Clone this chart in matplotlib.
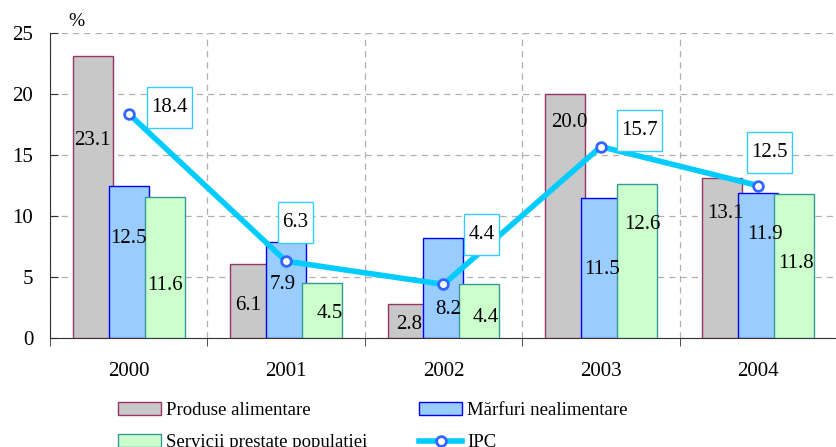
import matplotlib
matplotlib.use("Agg")
import matplotlib.pyplot as plt
import numpy as np
from matplotlib.patches import Patch, Rectangle
from matplotlib.lines import Line2D

plt.rcParams['font.family'] = ['Liberation Serif', 'DejaVu Serif']

years = ["2000", "2001", "2002", "2003", "2004"]
produse = [23.1, 6.1, 2.8, 20.0, 13.1]
marfuri = [12.5, 7.9, 8.2, 11.5, 11.9]
servicii = [11.6, 4.5, 4.4, 12.6, 11.8]
ipc = [18.4, 6.3, 4.4, 15.7, 12.5]

# label positions (x offset from category center, y in data units)
produse_lbl = [(-0.23, 16.2), (-0.24, 2.7), (-0.22, 1.15), (-0.20, 17.7), (-0.21, 10.25)]
marfuri_lbl = [(0.0, 8.2), (-0.02, 4.4), (0.03, 2.3), (0.01, 5.6), (0.04, 8.5)]
servicii_lbl = [(0.23, 4.35), (0.28, 2.0), (0.27, 1.65), (0.265, 9.35), (0.24, 6.15)]
ipc_lbl = [(0.26, 18.9), (0.06, 9.5), (0.24, 8.5), (0.246, 17.05), (0.07, 15.2)]

fig = plt.figure(figsize=(8.37, 4.47), dpi=100)
ax = fig.add_axes([0.0597, 0.2438, 0.9403, 0.6817])

x = np.arange(len(years))
w = 0.254
off = 0.228
fs = 15

ax.bar(x - off, produse, w, color='#C8C8C8', edgecolor='#993366', linewidth=1.0, zorder=3)
ax.bar(x, marfuri, w, color='#99CCFF', edgecolor='#0000FF', linewidth=1.0, zorder=3)
ax.bar(x + off, servicii, w, color='#CCFFCC', edgecolor='#339999', linewidth=1.0, zorder=3)
ax.plot(x, ipc, color='#00CCFF', linewidth=4, marker='o', markersize=7,
        markerfacecolor='white', markeredgecolor='#3366FF', markeredgewidth=2, zorder=5)

ax.set_xlim(-0.5, 4.5)
ax.set_ylim(0, 25)

ipc_texts = []
for i in range(len(years)):
    for vals, lbl in ((produse, produse_lbl), (marfuri, marfuri_lbl), (servicii, servicii_lbl)):
        dx, yy = lbl[i]
        ax.text(i + dx, yy, f"{vals[i]:.1f}", ha='center', va='center', fontsize=fs, zorder=6)
    dx, yy = ipc_lbl[i]
    t = ax.text(i + dx, yy, f"{ipc[i]:.1f}", ha='center', va='center', fontsize=fs, zorder=7)
    ipc_texts.append(t)

ax.set_yticks([0, 5, 10, 15, 20, 25])
ax.set_xticks(x)
ax.set_xticklabels(years, fontsize=fs)
ax.set_xticks(np.arange(-0.5, 5.0, 1.0), minor=True)
ax.tick_params(axis='x', which='major', length=0, pad=17)
ax.tick_params(axis='x', which='minor', length=6, direction='out', color='#333333')
ax.tick_params(axis='y', which='major', length=6, direction='in', labelsize=fs, pad=12, color='#333333')

ax.grid(axis='y', which='major', linestyle=(0, (5, 4)), color='#B0B0B0', linewidth=0.9, zorder=0)
ax.grid(axis='x', which='minor', linestyle=(0, (5, 4)), color='#B0B0B0', linewidth=0.9, zorder=0)
ax.set_axisbelow(True)

for s in ('top', 'right'):
    ax.spines[s].set_visible(False)
ax.spines['left'].set_color('#333333')
ax.spines['bottom'].set_color('#333333')

ax.text(-0.33, 25.93, "%", ha='center', va='center', fontsize=fs - 1, clip_on=False)

# boxes around IPC labels, sized from the rendered text
fig.canvas.draw()
renderer = fig.canvas.get_renderer()
inv = ax.transData.inverted()
for t in ipc_texts:
    bb = t.get_window_extent(renderer)
    cx = (bb.x0 + bb.x1) / 2
    cy = (bb.y0 + bb.y1) / 2
    half_w = bb.width / 2 + 4.5
    half_h = 20.5
    (x0, y0) = inv.transform((cx - half_w, cy - half_h))
    (x1, y1) = inv.transform((cx + half_w, cy + half_h))
    ax.add_patch(Rectangle((x0, y0), x1 - x0, y1 - y0, facecolor='white',
                           edgecolor='#33CCFF', linewidth=1.0, zorder=6))

lfs = 13.5
h_prod = Patch(facecolor='#C8C8C8', edgecolor='#993366', label='Produse alimentare')
h_marf = Patch(facecolor='#99CCFF', edgecolor='#0000FF', label='Mărfuri nealimentare')
h_serv = Patch(facecolor='#CCFFCC', edgecolor='#339999', label='Servicii prestate populatiei')
h_ipc = Line2D([0], [0], color='#00CCFF', linewidth=4, marker='o', markersize=7,
               markerfacecolor='white', markeredgecolor='#3366FF', markeredgewidth=2, label='IPC')
common = dict(loc='center left', frameon=False, fontsize=lfs, handlelength=2.3, handleheight=0.7,
              handletextpad=0.27, labelspacing=0.8, borderaxespad=0, borderpad=0)
fig.legend(handles=[h_prod, h_serv], bbox_to_anchor=(118 / 837, 0.046), **common)
fig.legend(handles=[h_marf, h_ipc], bbox_to_anchor=(419 / 837, 0.046), **common)

fig.savefig("out.png", dpi=100)
